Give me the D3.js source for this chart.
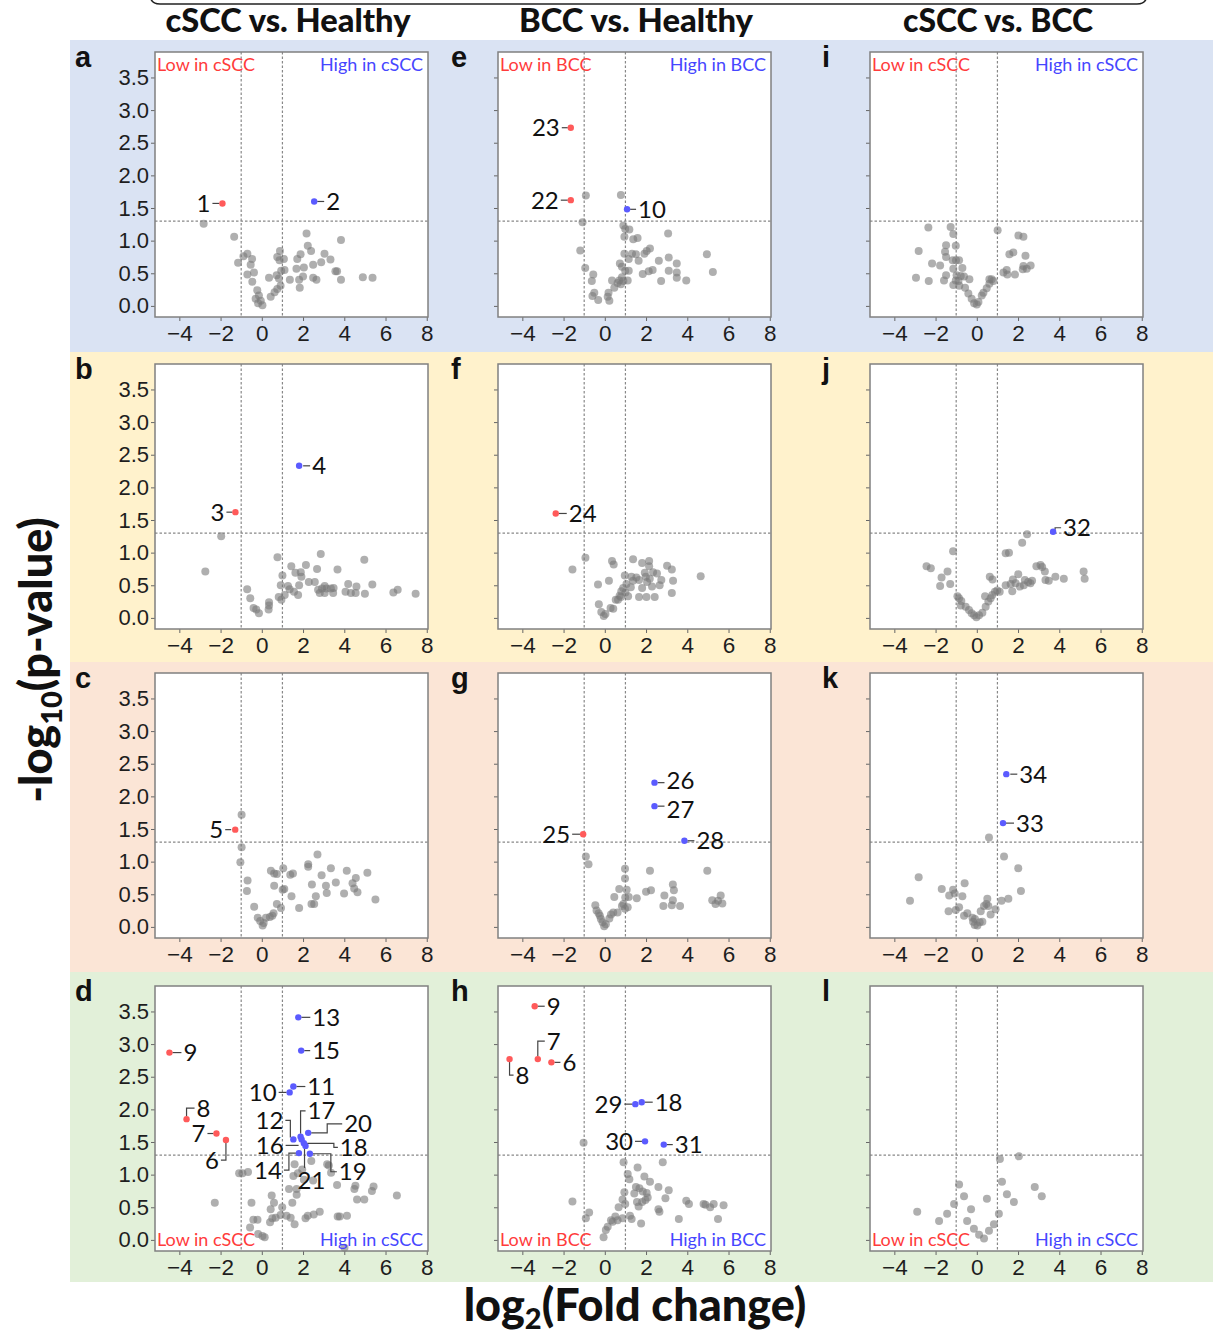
<!DOCTYPE html>
<html><head><meta charset="utf-8">
<script src="https://cdn.jsdelivr.net/npm/d3@7"></script>
<style>body{margin:0;background:#fff} svg{display:block}</style>
</head><body><svg id="c" width="1213" height="1337"></svg>
<script>
// ---------------- DATA ----------------
const xTicks = [-4, -2, 0, 2, 4, 6, 8];
const yTicks = [0, 0.5, 1, 1.5, 2, 2.5, 3, 3.5];
const columnTitles = ["cSCC vs. Healthy", "BCC vs. Healthy", "cSCC vs. BCC"];
const columnTarget = ["cSCC", "BCC", "cSCC"];
const panelLetters = [["a","e","i"],["b","f","j"],["c","g","k"],["d","h","l"]];
const fcThreshold = 1;      // |log2 FC|
const pThreshold = 1.3;     // -log10(0.05)

// gray (non-significant) points [log2FC, -log10 p]
const grayA = [[-2.82,1.26],[-1.34,1.06],[-1.15,0.66],[-0.70,0.80],[-0.89,0.76],[-0.47,0.72],[-0.54,0.63],[-0.70,0.48],[-0.38,0.51],[-0.46,0.37],[-0.22,0.24],[-0.14,0.16],[-0.30,0.11],[-0.05,0.08],[0.03,0.01],[-0.18,0.04],[0.35,0.43],[0.43,0.14],[0.62,0.21],[0.75,0.26],[0.83,0.42],[0.72,0.47],[0.91,0.31],[0.94,0.54],[0.88,0.84],[0.75,0.75],[0.86,0.70],[1.07,0.72],[1.10,0.55],[1.36,0.40],[1.72,0.72],[1.88,0.79],[1.68,0.57],[1.81,0.40],[1.84,0.28],[2.00,0.45],[2.17,1.11],[2.23,0.92],[2.39,0.84],[2.04,0.59],[2.49,0.63],[2.49,0.43],[2.65,0.40],[2.88,0.67],[3.04,0.80],[3.33,0.71],[3.57,0.53],[3.65,0.53],[3.84,1.01],[3.84,0.40],[4.90,0.44],[5.37,0.43]];
const grayB = [[-1.97,1.25],[-2.74,0.71],[-0.71,0.44],[-0.56,0.30],[-0.40,0.15],[-0.27,0.13],[-0.14,0.07],[0.35,0.24],[0.35,0.19],[0.33,0.13],[0.82,0.32],[0.95,0.28],[0.92,0.50],[0.76,0.93],[1.00,0.65],[1.11,0.35],[1.27,0.49],[1.35,0.44],[1.43,0.79],[1.56,0.40],[1.63,0.69],[1.76,0.35],[1.81,0.50],[1.89,0.70],[1.92,0.63],[2.14,0.81],[2.28,0.55],[2.57,0.55],[2.68,0.75],[2.73,0.43],[2.86,0.98],[2.92,0.45],[3.05,0.38],[3.14,0.45],[3.35,0.45],[3.46,0.38],[3.67,0.74],[3.48,0.46],[4.06,0.40],[4.19,0.52],[4.32,0.38],[4.55,0.38],[4.59,0.48],[4.97,0.89],[5.00,0.37],[5.36,0.51],[6.38,0.39],[6.59,0.43],[7.46,0.37],[2.81,0.38],[3.05,0.49]];
const grayC = [[-0.98,1.72],[-0.98,1.22],[-1.04,0.99],[-0.69,0.71],[-0.72,0.55],[-0.37,0.31],[-0.20,0.14],[-0.08,0.09],[0.04,0.02],[0.09,0.06],[0.20,0.14],[0.39,0.15],[0.51,0.17],[0.57,0.21],[0.73,0.35],[0.93,0.29],[0.44,0.86],[0.60,0.82],[0.73,0.81],[0.60,0.63],[1.04,0.90],[1.01,0.57],[1.09,0.58],[1.38,0.80],[1.51,0.82],[1.44,0.47],[1.81,0.29],[2.25,0.96],[2.25,0.92],[2.43,0.65],[2.41,0.35],[2.54,0.35],[2.62,0.47],[2.70,1.11],[2.90,0.79],[3.11,0.63],[3.15,0.52],[3.35,0.90],[3.59,0.68],[3.99,0.51],[4.12,0.86],[4.40,0.67],[4.56,0.75],[4.48,0.59],[4.64,0.53],[5.12,0.83],[5.51,0.42]];
const grayD = [[-2.28,0.57],[-1.10,1.02],[-0.94,1.02],[-0.67,1.04],[-0.50,0.57],[-0.57,0.19],[-0.41,0.31],[-0.21,0.31],[-0.18,0.09],[0.03,0.06],[0.14,0.04],[0.40,0.27],[0.48,0.68],[0.51,0.33],[0.43,0.47],[0.59,0.57],[0.67,0.34],[0.91,0.38],[0.99,0.50],[1.20,0.37],[1.40,0.34],[1.48,0.57],[1.59,0.24],[1.69,0.78],[1.69,0.69],[1.53,0.98],[1.32,0.78],[1.75,1.02],[1.59,1.16],[1.96,1.08],[2.04,0.92],[2.12,0.33],[2.23,0.37],[2.40,1.21],[2.49,0.91],[2.52,0.39],[2.81,0.43],[3.17,1.16],[3.25,1.14],[3.36,1.03],[3.65,0.84],[3.68,0.36],[3.78,0.36],[4.13,0.37],[4.49,0.78],[4.54,0.83],[4.62,0.62],[4.97,0.62],[5.34,0.75],[5.42,0.82],[6.55,0.68],[4.01,-0.12]];
const grayE = [[-0.92,1.69],[0.78,1.70],[-1.08,1.28],[-1.19,0.85],[-0.95,0.58],[-0.56,0.48],[-0.63,0.38],[-0.51,0.20],[-0.60,0.15],[-0.32,0.09],[0.14,0.14],[0.22,0.08],[0.18,0.20],[0.35,0.39],[0.46,0.28],[0.62,0.35],[0.70,0.39],[0.78,0.33],[0.90,0.38],[0.83,0.44],[0.73,0.65],[0.83,0.60],[0.99,0.54],[1.16,0.54],[1.11,0.39],[0.95,0.80],[0.90,1.23],[0.99,1.18],[1.19,1.17],[0.95,1.06],[1.38,1.02],[1.59,1.04],[1.32,0.80],[1.51,0.79],[1.64,0.69],[1.16,0.72],[1.92,0.80],[2.19,0.88],[2.03,0.84],[1.84,0.49],[2.13,0.53],[2.32,0.55],[2.62,0.69],[2.73,0.38],[3.07,1.11],[3.10,0.74],[3.10,0.54],[3.49,0.65],[3.49,0.51],[3.49,0.43],[3.95,0.39],[4.95,0.79],[5.24,0.52]];
const grayF = [[-0.94,0.92],[-1.57,0.74],[0.35,0.87],[0.43,0.82],[1.37,0.90],[1.81,0.84],[2.15,0.87],[2.15,0.79],[2.34,0.70],[3.02,0.80],[3.25,0.74],[3.31,0.57],[3.25,0.38],[4.65,0.64],[-0.33,0.51],[0.20,0.57],[-0.29,0.21],[-0.17,0.09],[-0.05,0.03],[0.03,0.06],[0.28,0.15],[0.41,0.14],[0.64,0.28],[0.72,0.34],[0.80,0.41],[0.89,0.46],[1.00,0.39],[1.05,0.52],[0.97,0.65],[1.29,0.63],[1.37,0.57],[1.26,0.47],[1.53,0.62],[1.66,0.58],[1.66,0.32],[1.81,0.46],[1.94,0.69],[1.99,0.63],[2.02,0.32],[2.05,0.55],[2.18,0.60],[2.29,0.48],[2.42,0.32],[2.53,0.68],[2.66,0.50],[2.74,0.58],[1.13,0.33],[0.53,0.28],[0.78,0.32]];
const grayG = [[-0.92,1.08],[-0.79,0.96],[-0.46,0.33],[-0.40,0.25],[-0.30,0.21],[-0.24,0.17],[-0.19,0.12],[-0.11,0.07],[-0.03,0.01],[0.05,0.04],[0.22,0.13],[0.30,0.19],[0.41,0.22],[0.62,0.22],[0.46,0.46],[0.70,0.58],[0.83,0.32],[0.90,0.35],[0.98,0.28],[0.98,0.89],[0.98,0.74],[0.99,0.45],[1.06,0.57],[1.16,0.46],[1.11,0.30],[1.55,0.44],[2.00,0.54],[2.24,0.56],[2.19,0.86],[2.89,0.48],[2.84,0.32],[3.30,0.65],[3.35,0.56],[3.30,0.41],[3.25,0.33],[3.65,0.32],[4.97,0.86],[5.21,0.41],[5.37,0.35],[5.49,0.40],[5.62,0.48],[5.70,0.36]];
const grayH = [[-1.03,1.49],[0.91,1.19],[2.81,1.19],[1.59,1.11],[1.11,1.01],[1.19,0.93],[1.92,0.97],[2.19,0.89],[2.60,0.81],[3.10,0.76],[2.94,0.64],[1.51,0.81],[1.68,0.79],[1.84,0.74],[1.43,0.71],[2.03,0.72],[2.08,0.65],[1.97,0.61],[1.81,0.58],[1.64,0.51],[1.56,0.58],[0.95,0.73],[0.86,0.62],[0.99,0.55],[0.67,0.50],[0.51,0.36],[0.30,0.30],[0.38,0.28],[0.05,0.15],[0.14,0.20],[-0.06,0.04],[0.62,0.30],[0.86,0.33],[1.22,0.37],[1.30,0.32],[1.76,0.25],[2.60,0.47],[2.65,0.43],[3.59,0.32],[3.95,0.60],[4.08,0.55],[4.79,0.55],[4.88,0.54],[5.11,0.50],[5.28,0.55],[5.49,0.32],[5.76,0.53],[-1.57,0.59],[-0.76,0.42],[-0.92,0.33]];
const grayI = [[-2.35,1.20],[-1.27,1.21],[-1.14,1.10],[-1.49,0.93],[-1.02,0.92],[-1.54,0.83],[-1.49,0.75],[-2.82,0.84],[-2.17,0.65],[-1.78,0.62],[-2.95,0.43],[-2.33,0.38],[-1.49,0.47],[-1.59,0.39],[-1.17,0.70],[-1.01,0.70],[-0.86,0.70],[-1.14,0.57],[-0.70,0.58],[-0.98,0.47],[-0.78,0.46],[-0.62,0.45],[-1.02,0.39],[-0.89,0.38],[-1.14,0.32],[-0.85,0.31],[-0.57,0.28],[-0.36,0.41],[-0.41,0.19],[-0.25,0.11],[-0.13,0.04],[0.00,0.02],[0.08,0.06],[0.24,0.16],[0.32,0.20],[0.48,0.27],[0.61,0.34],[0.72,0.41],[0.80,0.38],[0.61,0.41],[1.01,1.16],[1.29,0.51],[1.45,0.55],[1.48,0.48],[1.58,0.79],[1.77,0.82],[1.85,0.48],[2.02,1.08],[2.26,1.06],[2.36,0.77],[2.26,0.61],[2.23,0.56],[2.42,0.57],[2.61,0.62]];
const grayJ = [[2.44,1.28],[2.20,1.15],[1.40,0.99],[1.56,1.00],[-1.15,1.02],[-2.44,0.79],[-2.23,0.76],[-1.42,0.71],[-1.71,0.62],[-1.78,0.49],[-1.29,0.52],[-0.94,0.33],[-0.86,0.30],[-0.75,0.26],[-0.78,0.19],[-0.54,0.17],[-0.38,0.12],[-0.25,0.07],[-0.13,0.04],[-0.02,0.01],[0.11,0.04],[0.27,0.08],[0.43,0.17],[0.56,0.25],[0.40,0.33],[0.67,0.30],[0.75,0.35],[0.88,0.40],[0.99,0.42],[1.11,0.40],[0.63,0.63],[0.76,0.59],[1.40,0.50],[1.64,0.52],[1.72,0.41],[1.75,0.59],[2.01,0.67],[1.88,0.53],[2.09,0.48],[2.28,0.50],[2.33,0.58],[2.49,0.55],[2.60,0.53],[2.68,0.57],[2.89,0.79],[3.09,0.81],[3.17,0.78],[3.30,0.71],[3.33,0.58],[3.49,0.57],[3.81,0.63],[4.22,0.60],[5.18,0.71],[5.23,0.60]];
const grayK = [[0.59,1.37],[1.32,1.08],[2.01,0.90],[2.14,0.55],[1.53,0.43],[1.20,0.40],[-2.82,0.76],[-3.24,0.40],[-1.70,0.58],[-1.15,0.57],[-1.07,0.51],[-1.34,0.48],[-0.59,0.67],[-0.70,0.47],[-1.37,0.24],[-1.02,0.26],[-0.86,0.30],[-0.62,0.17],[-0.46,0.21],[-0.21,0.14],[-0.18,0.08],[-0.10,0.03],[0.03,0.02],[0.14,0.07],[0.27,0.08],[0.19,0.24],[0.35,0.32],[0.46,0.35],[0.51,0.43],[0.56,0.32],[0.67,0.19],[0.91,0.27],[-0.09,0.12]];
const grayL = [[1.12,1.24],[2.04,1.28],[2.81,0.81],[3.15,0.67],[1.22,0.89],[1.46,0.70],[1.80,0.58],[-0.86,0.85],[-0.62,0.67],[-2.89,0.43],[-1.83,0.29],[-1.44,0.40],[-1.10,0.55],[-0.47,0.29],[-0.14,0.17],[0.11,0.08],[0.35,0.02],[0.59,0.14],[0.83,0.24],[1.07,0.40],[-0.28,0.47],[0.49,0.63]];

// significant (highlighted) points
const sigA = [{id:"1",x:-1.91,y:1.57,dir:"low"},{id:"2",x:2.54,y:1.60,dir:"high"}];
const sigB = [{id:"3",x:-1.28,y:1.62,dir:"low"},{id:"4",x:1.81,y:2.33,dir:"high"}];
const sigC = [{id:"5",x:-1.29,y:1.49,dir:"low"}];
const sigD = [{id:"9",x:-4.48,y:2.87,dir:"low"},{id:"8",x:-3.65,y:1.85,dir:"low"},{id:"7",x:-2.20,y:1.63,dir:"low"},{id:"6",x:-1.74,y:1.53,dir:"low"},
  {id:"13",x:1.77,y:3.41,dir:"high"},{id:"15",x:1.91,y:2.90,dir:"high"},{id:"11",x:1.53,y:2.35,dir:"high"},{id:"10",x:1.35,y:2.26,dir:"high"},
  {id:"12",x:1.53,y:1.54,dir:"high"},{id:"17",x:1.88,y:1.58,dir:"high"},{id:"20",x:2.25,y:1.64,dir:"high"},{id:"16",x:1.93,y:1.54,dir:"high"},
  {id:"18",x:2.04,y:1.48,dir:"high"},{id:"14",x:1.80,y:1.33,dir:"high"},{id:"21",x:2.12,y:1.44,dir:"high"},{id:"19",x:2.33,y:1.32,dir:"high"}];
const sigE = [{id:"23",x:-1.65,y:2.73,dir:"low"},{id:"22",x:-1.65,y:1.62,dir:"low"},{id:"10",x:1.08,y:1.48,dir:"high"}];
const sigF = [{id:"24",x:-2.38,y:1.60,dir:"low"}];
const sigG = [{id:"25",x:-1.05,y:1.42,dir:"low"},{id:"26",x:2.41,y:2.21,dir:"high"},{id:"27",x:2.41,y:1.85,dir:"high"},{id:"28",x:3.86,y:1.32,dir:"high"}];
const sigH = [{id:"9",x:-3.40,y:3.58,dir:"low"},{id:"7",x:-3.25,y:2.77,dir:"low"},{id:"8",x:-4.62,y:2.77,dir:"low"},{id:"6",x:-2.59,y:2.72,dir:"low"},
  {id:"29",x:1.48,y:2.08,dir:"high"},{id:"18",x:1.79,y:2.11,dir:"high"},{id:"30",x:1.95,y:1.51,dir:"high"},{id:"31",x:2.86,y:1.46,dir:"high"}];
const sigI = [];
const sigJ = [{id:"32",x:3.70,y:1.32,dir:"high"}];
const sigK = [{id:"34",x:1.43,y:2.34,dir:"high"},{id:"33",x:1.27,y:1.59,dir:"high"}];
const sigL = [];

// ---------------- LAYOUT (annotation leader paths, px relative to marker) ----------------
const leaders = {
  a:{"1":[[-3,0],[-10,0]],"2":[[3,0],[10,0]]},
  b:{"3":[[-3,0],[-9,0]],"4":[[4,0],[11,0]]},
  c:{"5":[[-4,0],[-10,0]]},
  d:{"9":[[3,0],[12,0]],"8":[[0,-3],[0,-11],[8,-11]],"7":[[-3,0],[-9,0]],"6":[[0,3],[0,20],[-5,20]],
     "13":[[3,0],[12,0]],"15":[[3,0],[9,0]],"11":[[3,0],[12,0]],"10":[[-3,0],[-11,0]],
     "12":[[-3,-2],[-3,-19],[-8,-19]],"17":[[0,-3],[0,-26],[5,-26]],"20":[[3,0],[19,0],[19,-9],[34,-9]],
     "16":[[-3,6],[-16,6]],"18":[[3,0],[30,0],[30,4],[34,4]],"14":[[-3,0],[-10,0],[-10,17],[-15,17]],
     "21":[[-1,3],[-1,22]],"19":[[3,0],[21,0],[21,18],[27,18]]},
  e:{"23":[[-3,0],[-9,0]],"22":[[-3,0],[-10,0]],"10":[[3,0],[9,0]]},
  f:{"24":[[3,0],[11,0]]},
  g:{"25":[[-3,0],[-11,0]],"26":[[3,0],[10,0]],"27":[[3,0],[10,0]],"28":[[3,0],[10,0]]},
  h:{"9":[[3,0],[10,0]],"7":[[0,-3],[0,-18],[7,-18]],"8":[[0,3],[0,16],[4,16]],"6":[[3,0],[9,0]],
     "29":[[-3,0],[-11,0]],"18":[[3,0],[11,0]],"30":[[-3,0],[-10,0]],"31":[[3,0],[9,0]]},
  j:{"32":[[2,-2],[2,-4],[8,-4]]},
  k:{"34":[[4,0],[11,0]],"33":[[3,0],[11,0]]}
};
const textOverride = { d:{"21":[-8,34,"start"]}, g:{"26":[12,-2,"start"],"27":[12,3,"start"]} };

const grayByLetter = {a:grayA,b:grayB,c:grayC,d:grayD,e:grayE,f:grayF,g:grayG,h:grayH,i:grayI,j:grayJ,k:grayK,l:grayL};
const sigByLetter = {a:sigA,b:sigB,c:sigC,d:sigD,e:sigE,f:sigF,g:sigG,h:sigH,i:sigI,j:sigJ,k:sigK,l:sigL};

// ---------------- DRAW ----------------
const svg = d3.select("#c");
const colLeft = [155, 498, 870], rowTop = [52, 364, 673, 986];
const PW = 273, PH = 265;
const bandColors = ["#dae3f3", "#fff2cc", "#fbe5d6", "#e2f0d9"];
const bandTop = [40, 352, 662, 972], bandH = [312, 310, 310, 310];
const RED = "#ff5a5a", BLUE = "#5b5bff";
const LABEL_FONT = "Lato, 'Open Sans', sans-serif";
const TICK_FONT = "'Liberation Sans', Arial, sans-serif";

bandColors.forEach((c, i) => {
  svg.append("rect").attr("x", 70).attr("y", bandTop[i]).attr("width", 1143).attr("height", bandH[i]).attr("fill", c);
});

// top bracket
svg.append("path").attr("d", "M150,-6 Q150,4 160,4 L1137,4 Q1147,4 1147,-6")
  .attr("fill", "none").attr("stroke", "#222").attr("stroke-width", 1.5);

const titleX = [288, 636, 998], titleW = [245, 234, 190];
columnTitles.forEach((t, i) => {
  svg.append("text").attr("x", titleX[i]).attr("y", 32).attr("text-anchor", "middle")
    .attr("font-family", LABEL_FONT).attr("font-weight", "900").attr("font-size", 32)
    .attr("textLength", titleW[i]).attr("lengthAdjust", "spacingAndGlyphs")
    .attr("fill", "#111").text(t);
});

// axis titles
const yt = svg.append("text").attr("transform", "translate(52,660) rotate(-90)")
  .attr("text-anchor", "middle").attr("font-family", LABEL_FONT).attr("font-weight", "900")
  .attr("font-size", 45).attr("fill", "#111");
yt.append("tspan").text("-log");
yt.append("tspan").attr("font-size", 29).attr("dy", 10).text("10");
yt.append("tspan").attr("dy", -10).text("(p-value)");

const xt = svg.append("text").attr("x", 635).attr("y", 1321).attr("text-anchor", "middle")
  .attr("font-family", LABEL_FONT).attr("font-weight", "900").attr("font-size", 45).attr("fill", "#111");
xt.append("tspan").text("log");
xt.append("tspan").attr("font-size", 29).attr("dy", 8).text("2");
xt.append("tspan").attr("dy", -8).text("(Fold change)");

const xDomain = [-5.18, 8.06], yDomain = [-0.17, 3.89];

panelLetters.forEach((rowLetters, r) => {
  rowLetters.forEach((letter, c) => {
    const x0 = colLeft[c], y0 = rowTop[r];
    const g = svg.append("g").attr("transform", `translate(${x0},${y0})`);
    const x = d3.scaleLinear().domain(xDomain).range([0, PW]);
    const y = d3.scaleLinear().domain(yDomain).range([PH, 0]);

    g.append("rect").attr("width", PW).attr("height", PH).attr("fill", "#fff");

    // axes
    const xAxis = d3.axisBottom(x).tickValues(xTicks).tickSize(4).tickPadding(4).tickFormat(d3.format("d"));
    const gx = g.append("g").attr("transform", `translate(0,${PH})`).call(xAxis);
    gx.select(".domain").remove();
    gx.selectAll("line").attr("stroke", "#666");
    gx.selectAll("text").attr("font-family", TICK_FONT).attr("font-size", 22.5).attr("fill", "#1e1e1e");

    const yAxis = d3.axisLeft(y).tickValues(yTicks).tickSize(4).tickPadding(2)
      .tickFormat(c === 0 ? d3.format(".1f") : () => "");
    const gy = g.append("g").call(yAxis);
    gy.select(".domain").remove();
    gy.selectAll("line").attr("stroke", "#666");
    gy.selectAll("text").attr("font-family", TICK_FONT).attr("font-size", 22).attr("fill", "#1e1e1e");

    // threshold lines
    const dash = g.append("g").attr("stroke", "#888").attr("stroke-width", 1.2).attr("stroke-dasharray", "2.5,2");
    [-fcThreshold, fcThreshold].forEach(v => dash.append("line").attr("x1", x(v)).attr("x2", x(v)).attr("y1", 0).attr("y2", PH));
    dash.append("line").attr("x1", 0).attr("x2", PW).attr("y1", y(pThreshold)).attr("y2", y(pThreshold));

    // gray points
    g.append("g").selectAll("circle").data(grayByLetter[letter]).join("circle")
      .attr("cx", d => x(d[0])).attr("cy", d => y(d[1])).attr("r", 4)
      .attr("fill", "#7a7a7a").attr("fill-opacity", 0.6);

    // region labels
    const tgt = columnTarget[c];
    if (r === 0 || r === 3) {
      const ly = r === 0 ? 19 : PH - 5;
      g.append("text").attr("x", 2).attr("y", ly).attr("font-family", LABEL_FONT).attr("font-size", 18)
        .attr("fill", "#ff3b3b").text(`Low in ${tgt}`);
      g.append("text").attr("x", PW - 5).attr("y", ly).attr("text-anchor", "end").attr("font-family", LABEL_FONT)
        .attr("font-size", 18).attr("fill", "#4646ff").text(`High in ${tgt}`);
    }

    // significant points + leaders
    const sig = sigByLetter[letter];
    const lay = leaders[letter] || {};
    const ov = textOverride[letter] || {};
    const ann = g.append("g");
    sig.forEach(d => {
      const px = x(d.x), py = y(d.y);
      const path = lay[d.id] || (d.dir === "low" ? [[-3,0],[-10,0]] : [[3,0],[10,0]]);
      const pts = path.map(p => [px + p[0], py + p[1]]);
      ann.append("path").attr("d", d3.line()(pts)).attr("fill", "none").attr("stroke", "#444").attr("stroke-width", 1.2);
      let tx, ty, anchor;
      if (ov[d.id]) {
        [tx, ty, anchor] = [px + ov[d.id][0], py + ov[d.id][1], ov[d.id][2]];
      } else {
        const last = pts[pts.length - 1], prev = pts[pts.length - 2];
        const goesRight = last[0] >= prev[0] && !(last[0] === prev[0] && last[0] < px);
        anchor = goesRight ? "start" : "end";
        tx = last[0] + (goesRight ? 2 : -2); ty = last[1];
      }
      ann.append("text").attr("x", tx).attr("y", ty).attr("dy", "0.36em").attr("text-anchor", anchor)
        .attr("font-family", LABEL_FONT).attr("font-size", 24).attr("fill", "#111").text(d.id);
    });
    ann.append("g").selectAll("circle").data(sig).join("circle")
      .attr("cx", d => x(d.x)).attr("cy", d => y(d.y)).attr("r", 3.2)
      .attr("fill", d => d.dir === "low" ? RED : BLUE);

    // frame
    g.append("rect").attr("width", PW).attr("height", PH).attr("fill", "none").attr("stroke", "#808080").attr("stroke-width", 1.5);

    // panel letter
    svg.append("text").attr("x", c === 0 ? 75 : (c === 1 ? 451 : 822)).attr("y", y0 + 15)
      .attr("font-family", "'Liberation Sans', Arial, sans-serif").attr("font-weight", "bold").attr("font-size", 29)
      .attr("fill", "#111").text(letter);
  });
});
</script></body></html>
